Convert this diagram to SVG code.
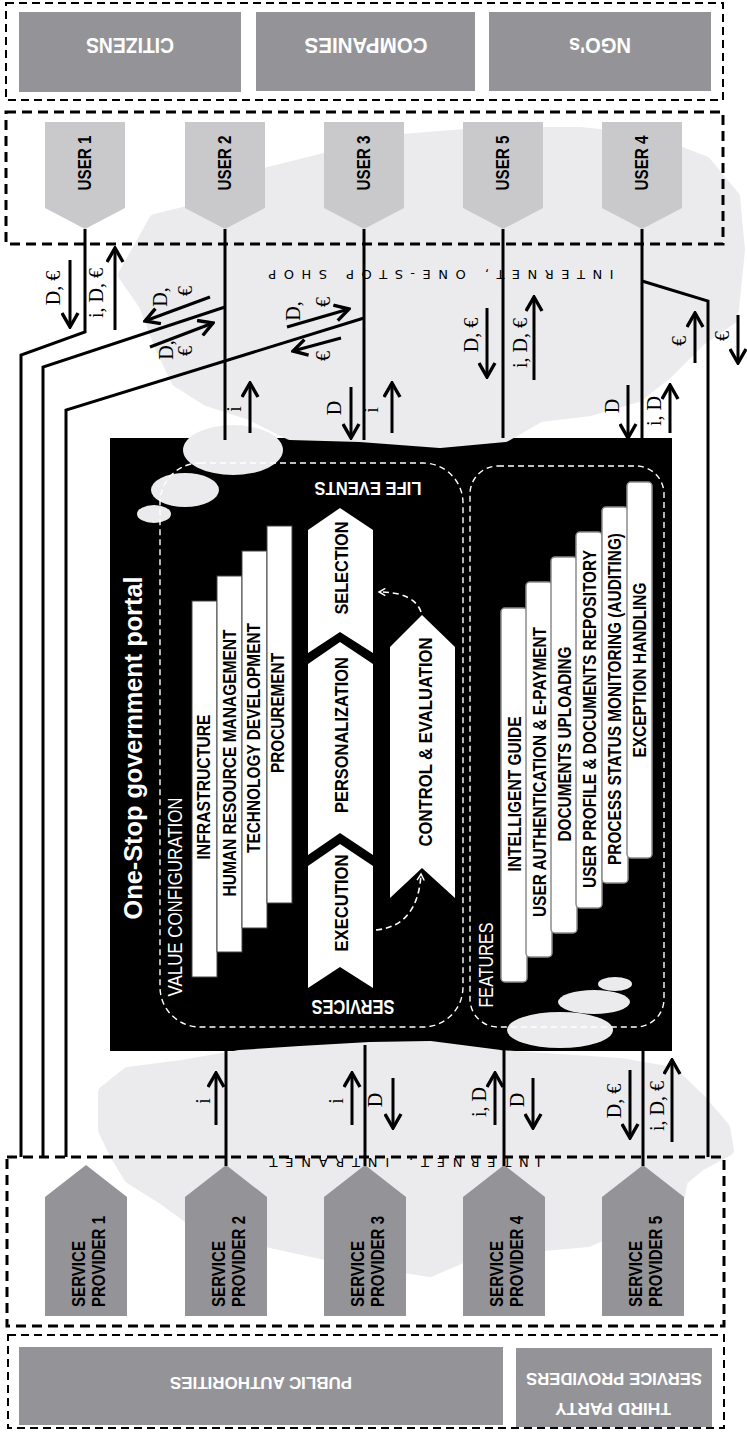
<svg xmlns="http://www.w3.org/2000/svg" width="747" height="1433" viewBox="0 0 747 1433">
<defs>
<style>
.dk{fill:#949498}
.us{fill:#c9c9cc}
.cl{fill:#ebebed;stroke:#ebebed;stroke-width:12;stroke-linejoin:round}
.bub{fill:#ebebed}
.db{fill:none;stroke:#000;stroke-width:3;stroke-dasharray:10 6}
.db2{fill:none;stroke:#000;stroke-width:2;stroke-dasharray:8 5}
.ln{fill:none;stroke:#000;stroke-width:3;stroke-linejoin:miter}
.ar{fill:none;stroke:#000;stroke-width:3;marker-end:url(#ah)}
.lb{font-family:"Liberation Serif","Times New Roman",serif;font-size:20px;fill:#000;text-anchor:middle}
.hw{font-family:"Liberation Sans",Arial,sans-serif;font-weight:bold;fill:#fff;text-anchor:middle}
.hb{font-family:"Liberation Sans",Arial,sans-serif;font-weight:bold;fill:#000;text-anchor:middle}
.hr{font-family:"Liberation Sans",Arial,sans-serif;fill:#fff;text-anchor:middle}
.sp{font-family:"Liberation Sans",Arial,sans-serif;font-weight:bold;fill:#000;font-size:19px}
.net{font-family:"DejaVu Sans","Liberation Sans",sans-serif;font-size:13px;fill:#000;text-anchor:middle}
.bar{fill:#fff;stroke:#444;stroke-width:1}
.fbar{fill:#fff;stroke:#8c8c8c;stroke-width:1.5}
.chev{fill:#fff}
.wd{fill:none;stroke:#fff;stroke-width:1.4;stroke-dasharray:6 4}
.wa{fill:none;stroke:#fff;stroke-width:1.6;stroke-dasharray:6 4;marker-end:url(#ahw)}
</style>
<marker id="ah" viewBox="0 0 17 19" refX="15" refY="9.5" markerWidth="17" markerHeight="19" markerUnits="userSpaceOnUse" orient="auto">
<path d="M1,1.5 L15,9.5 L1,17.5" fill="none" stroke="#000" stroke-width="3.4"/>
</marker>
<marker id="ahw" viewBox="0 0 10 10" refX="8" refY="5" markerWidth="9" markerHeight="9" markerUnits="userSpaceOnUse" orient="auto">
<path d="M1,1 L8,5 L1,9" fill="none" stroke="#fff" stroke-width="1.6"/>
</marker>
</defs>

<rect width="747" height="1433" fill="#fff"/>

<g id="portal-bg">
<rect x="110" y="438" width="562" height="613" fill="#000"/>
</g>

<g id="clouds">
<polygon class="cl" points="124,275 155,220 215,205 268,173 332,157 402,140 490,133 580,133 648,140 705,162 734,197 739,250 732,318 700,340 668,372 638,396 590,410 540,416 505,436 440,442 360,436 290,434 250,414 207,400 177,381 160,345 145,305"/>
<polygon class="cl" points="104,1092 128,1073 182,1066 240,1056 300,1052 370,1048 430,1047 500,1056 620,1064 672,1073 700,1100 724,1128 728,1150 700,1165 682,1180 677,1205 636,1220 588,1241 476,1251 430,1271 325,1254 202,1227 162,1198 130,1178 116,1155 104,1130"/>
<ellipse class="bub" cx="233" cy="450" rx="50" ry="25"/>
<ellipse class="bub" cx="185" cy="490" rx="34" ry="17"/>
<ellipse class="bub" cx="154" cy="514" rx="17" ry="9"/>
<ellipse class="bub" cx="560" cy="1030" rx="53" ry="18"/>
<ellipse class="bub" cx="594" cy="1002" rx="36" ry="12"/>
<ellipse class="bub" cx="615" cy="984" rx="17" ry="7"/>
<text class="net" transform="translate(441,270) rotate(180)" textLength="345" lengthAdjust="spacing">INTERNET, ONE-STOP SHOP</text>
<text class="net" transform="translate(405,1158) rotate(180)" textLength="271" lengthAdjust="spacing">INTERNET, INTRANET</text>
</g>

<g id="stakeholders">
<rect class="db2" x="6" y="3" width="717" height="97"/>
<g id="citizens"><rect class="dk" x="19" y="12" width="222" height="80"/><text class="hw" font-size="22" transform="translate(130,38) rotate(180)" textLength="88" lengthAdjust="spacingAndGlyphs">CITIZENS</text></g>
<g id="companies"><rect class="dk" x="256" y="12" width="219" height="79"/><text class="hw" font-size="22" transform="translate(366,38) rotate(180)" textLength="123" lengthAdjust="spacingAndGlyphs">COMPANIES</text></g>
<g id="ngos"><rect class="dk" x="489" y="12" width="222" height="79"/><text class="hw" font-size="22" transform="translate(600,38) rotate(180)" textLength="62" lengthAdjust="spacingAndGlyphs">NGO's</text></g>
</g>

<g id="users">
<rect class="db" x="6" y="112" width="717" height="132"/>
<g id="user1"><polygon class="us" points="45,122 125,122 125,208 85,229 45,208"/><text class="hb" font-size="19" transform="translate(91,163) rotate(-90)" textLength="55" lengthAdjust="spacingAndGlyphs">USER 1</text></g>
<g id="user2"><polygon class="us" points="185,122 265,122 265,208 225,229 185,208"/><text class="hb" font-size="19" transform="translate(231,163) rotate(-90)" textLength="55" lengthAdjust="spacingAndGlyphs">USER 2</text></g>
<g id="user3"><polygon class="us" points="324,122 404,122 404,208 364,229 324,208"/><text class="hb" font-size="19" transform="translate(370,163) rotate(-90)" textLength="55" lengthAdjust="spacingAndGlyphs">USER 3</text></g>
<g id="user5"><polygon class="us" points="463,122 543,122 543,208 503,229 463,208"/><text class="hb" font-size="19" transform="translate(509,163) rotate(-90)" textLength="55" lengthAdjust="spacingAndGlyphs">USER 5</text></g>
<g id="user4"><polygon class="us" points="602,122 682,122 682,208 642,229 602,208"/><text class="hb" font-size="19" transform="translate(648,163) rotate(-90)" textLength="55" lengthAdjust="spacingAndGlyphs">USER 4</text></g>
</g>

<g id="providers">
<rect class="db" x="7" y="1157" width="717" height="169"/>
<g id="sp1"><polygon class="dk" points="45,1316 45,1197 86,1165 127,1197 127,1316"/><text class="sp" transform="translate(85,1307) rotate(-90)" textLength="66" lengthAdjust="spacingAndGlyphs">SERVICE</text><text class="sp" transform="translate(105,1307) rotate(-90)" textLength="91" lengthAdjust="spacingAndGlyphs">PROVIDER 1</text></g>
<g id="sp2"><polygon class="dk" points="185,1316 185,1197 226,1165 267,1197 267,1316"/><text class="sp" transform="translate(225,1307) rotate(-90)" textLength="66" lengthAdjust="spacingAndGlyphs">SERVICE</text><text class="sp" transform="translate(245,1307) rotate(-90)" textLength="91" lengthAdjust="spacingAndGlyphs">PROVIDER 2</text></g>
<g id="sp3"><polygon class="dk" points="324,1316 324,1197 365,1165 406,1197 406,1316"/><text class="sp" transform="translate(364,1307) rotate(-90)" textLength="66" lengthAdjust="spacingAndGlyphs">SERVICE</text><text class="sp" transform="translate(384,1307) rotate(-90)" textLength="91" lengthAdjust="spacingAndGlyphs">PROVIDER 3</text></g>
<g id="sp4"><polygon class="dk" points="463,1316 463,1197 504,1165 545,1197 545,1316"/><text class="sp" transform="translate(503,1307) rotate(-90)" textLength="66" lengthAdjust="spacingAndGlyphs">SERVICE</text><text class="sp" transform="translate(523,1307) rotate(-90)" textLength="91" lengthAdjust="spacingAndGlyphs">PROVIDER 4</text></g>
<g id="sp5"><polygon class="dk" points="602,1316 602,1197 643,1165 684,1197 684,1316"/><text class="sp" transform="translate(642,1307) rotate(-90)" textLength="66" lengthAdjust="spacingAndGlyphs">SERVICE</text><text class="sp" transform="translate(662,1307) rotate(-90)" textLength="91" lengthAdjust="spacingAndGlyphs">PROVIDER 5</text></g>
</g>

<g id="authorities">
<rect class="db2" x="8" y="1335" width="716" height="93"/>
<g id="public-authorities"><rect class="dk" x="19" y="1347" width="484" height="78"/><text class="hw" font-size="17" transform="translate(261,1377) rotate(180)" textLength="182" lengthAdjust="spacingAndGlyphs">PUBLIC AUTHORITIES</text></g>
<g id="third-party"><rect class="dk" x="516" y="1348" width="196" height="79"/><text class="hw" font-size="17" transform="translate(613,1403) rotate(180)" textLength="116" lengthAdjust="spacingAndGlyphs">THIRD PARTY</text><text class="hw" font-size="17" transform="translate(614,1373) rotate(180)" textLength="176" lengthAdjust="spacingAndGlyphs">SERVICE PROVIDERS</text></g>
</g>

<g id="connectors">
<polyline class="ln" points="85,229 85,332 21,355 21,1157"/>
<polyline class="ln" points="225,229 225,440"/>
<polyline class="ln" points="225,307 43,367 43,1157"/>
<polyline class="ln" points="364,229 364,440"/>
<polyline class="ln" points="364,318 66,410 66,1157"/>
<polyline class="ln" points="503,229 503,438"/>
<polyline class="ln" points="642,229 642,438"/>
<polyline class="ln" points="642,281 708,301 708,1157"/>
<line class="ln" x1="226" y1="1051" x2="226" y2="1166"/>
<line class="ln" x1="365" y1="1045" x2="365" y2="1166"/>
<line class="ln" x1="504" y1="1050" x2="504" y2="1166"/>
<line class="ln" x1="643" y1="1051" x2="643" y2="1166"/>

<path class="ar" d="M70,260 L70,327"/>
<path class="ar" d="M115,330 L115,248"/>
<path class="ar" d="M210,297 L145,321"/>
<path class="ar" d="M150,347 L213,323"/>
<path class="ar" d="M287,327 L349,309"/>
<path class="ar" d="M341,338 L293,351"/>
<path class="ar" d="M250,433 L250,383"/>
<path class="ar" d="M351,387 L351,438"/>
<path class="ar" d="M392,433 L392,383"/>
<path class="ar" d="M487,308 L487,377"/>
<path class="ar" d="M534,380 L534,297"/>
<path class="ar" d="M628,385 L628,438"/>
<path class="ar" d="M670,433 L670,385"/>
<path class="ar" d="M695,363 L695,313"/>
<path class="ar" d="M738,315 L738,363"/>

<path class="ar" d="M216,1125 L216,1073"/>
<path class="ar" d="M352,1125 L352,1073"/>
<path class="ar" d="M393,1078 L393,1128"/>
<path class="ar" d="M495,1125 L495,1073"/>
<path class="ar" d="M533,1078 L533,1128"/>
<path class="ar" d="M630,1070 L630,1138"/>
<path class="ar" d="M672,1142 L672,1060"/>

<text class="lb" transform="translate(60,288) rotate(-90)">D, €</text>
<text class="lb" transform="translate(103,293) rotate(-90)">i, D, €</text>
<text class="lb" transform="translate(167,297) rotate(-90)">D,</text>
<text class="lb" transform="translate(192,291) rotate(-90)">€</text>
<text class="lb" transform="translate(173,350) rotate(-90)">D,</text>
<text class="lb" transform="translate(192,351) rotate(-90)">€</text>
<text class="lb" transform="translate(300,311) rotate(-90)">D,</text>
<text class="lb" transform="translate(330,302) rotate(-90)">€</text>
<text class="lb" transform="translate(330,356) rotate(-90)">€</text>
<text class="lb" transform="translate(241,409) rotate(-90)">i</text>
<text class="lb" transform="translate(341,408) rotate(-90)">D</text>
<text class="lb" transform="translate(378,410) rotate(-90)">i</text>
<text class="lb" transform="translate(478,335) rotate(-90)">D, €</text>
<text class="lb" transform="translate(527,343) rotate(-90)">i, D, €</text>
<text class="lb" transform="translate(619,406) rotate(-90)">D</text>
<text class="lb" transform="translate(661,411) rotate(-90)">i, D</text>
<text class="lb" transform="translate(686,341) rotate(-90)">€</text>
<text class="lb" transform="translate(729,336) rotate(-90)">€</text>

<text class="lb" transform="translate(210,1101) rotate(-90)">i</text>
<text class="lb" transform="translate(343,1101) rotate(-90)">i</text>
<text class="lb" transform="translate(382,1100) rotate(-90)">D</text>
<text class="lb" transform="translate(486,1102) rotate(-90)">i, D</text>
<text class="lb" transform="translate(524,1100) rotate(-90)">D</text>
<text class="lb" transform="translate(621,1101) rotate(-90)">D, €</text>
<text class="lb" transform="translate(664,1106) rotate(-90)">i, D, €</text>
</g>

<g id="portal">
<rect class="wd" x="160" y="463" width="303" height="564" rx="40"/>
<rect class="wd" x="470" y="466" width="194" height="561" rx="28"/>
<text class="hw" font-size="25" transform="translate(142,748) rotate(-90)" textLength="343" lengthAdjust="spacingAndGlyphs">One-Stop government portal</text>

<g id="value-configuration">
<text class="hr" font-size="20" transform="translate(182,897) rotate(-90)" textLength="199" lengthAdjust="spacingAndGlyphs">VALUE CONFIGURATION</text>
<rect class="bar" x="192" y="601" width="25" height="376"/>
<rect class="bar" x="217" y="576" width="25" height="376"/>
<rect class="bar" x="242" y="551" width="25" height="377"/>
<rect class="bar" x="267" y="526" width="25" height="377"/>
<text class="hb" font-size="18" transform="translate(210,787) rotate(-90)" textLength="145" lengthAdjust="spacingAndGlyphs">INFRASTRUCTURE</text>
<text class="hb" font-size="18" transform="translate(236,763) rotate(-90)" textLength="267" lengthAdjust="spacingAndGlyphs">HUMAN RESOURCE MANAGEMENT</text>
<text class="hb" font-size="18" transform="translate(260,738) rotate(-90)" textLength="230" lengthAdjust="spacingAndGlyphs">TECHNOLOGY DEVELOPMENT</text>
<text class="hb" font-size="18" transform="translate(284,713) rotate(-90)" textLength="120" lengthAdjust="spacingAndGlyphs">PROCUREMENT</text>
</g>

<g id="services">
<text class="hw" font-size="19" transform="translate(368,482) rotate(180)" textLength="107" lengthAdjust="spacingAndGlyphs">LIFE EVENTS</text>
<text class="hw" font-size="20" transform="translate(353,1000) rotate(180)" textLength="83" lengthAdjust="spacingAndGlyphs">SERVICES</text>
<g id="selection"><polygon class="chev" points="308,530 340,508 373,530 373,653 340,632 308,653"/><text class="hb" font-size="19" transform="translate(348,568) rotate(-90)" textLength="93" lengthAdjust="spacingAndGlyphs">SELECTION</text></g>
<g id="personalization"><polygon class="chev" points="308,664 340,642 373,664 373,855 340,833 308,855"/><text class="hb" font-size="19" transform="translate(348,735) rotate(-90)" textLength="156" lengthAdjust="spacingAndGlyphs">PERSONALIZATION</text></g>
<g id="execution"><polygon class="chev" points="308,866 340,844 373,866 373,988 340,967 308,988"/><text class="hb" font-size="19" transform="translate(348,903) rotate(-90)" textLength="97" lengthAdjust="spacingAndGlyphs">EXECUTION</text></g>
<g id="control"><polygon class="chev" points="390,647 422,615 455,647 455,898 422,868 390,898"/><text class="hb" font-size="19" transform="translate(432,742) rotate(-90)" textLength="209" lengthAdjust="spacingAndGlyphs">CONTROL &amp; EVALUATION</text></g>
<path class="wa" d="M376,930 Q418,926 421,874"/>
<path class="wa" d="M421,612 Q414,592 379,592"/>
</g>

<g id="features">
<text class="hr" font-size="20" transform="translate(493,965) rotate(-90)" textLength="85" lengthAdjust="spacingAndGlyphs">FEATURES</text>
<rect class="fbar" x="501" y="608" width="26" height="374" rx="4"/>
<rect class="fbar" x="526" y="582" width="26" height="375" rx="4"/>
<rect class="fbar" x="551" y="557" width="26" height="376" rx="4"/>
<rect class="fbar" x="576" y="532" width="26" height="376" rx="4"/>
<rect class="fbar" x="602" y="507" width="26" height="376" rx="4"/>
<rect class="fbar" x="627" y="482" width="25" height="376" rx="4"/>
<text class="hb" font-size="18" transform="translate(521,794) rotate(-90)" textLength="155" lengthAdjust="spacingAndGlyphs">INTELLIGENT GUIDE</text>
<text class="hb" font-size="18" transform="translate(546,772) rotate(-90)" textLength="290" lengthAdjust="spacingAndGlyphs">USER AUTHENTICATION &amp; E-PAYMENT</text>
<text class="hb" font-size="18" transform="translate(571,744) rotate(-90)" textLength="195" lengthAdjust="spacingAndGlyphs">DOCUMENTS UPLOADING</text>
<text class="hb" font-size="18" transform="translate(596,719) rotate(-90)" textLength="338" lengthAdjust="spacingAndGlyphs">USER PROFILE &amp; DOCUMENTS REPOSITORY</text>
<text class="hb" font-size="18" transform="translate(621,699) rotate(-90)" textLength="332" lengthAdjust="spacingAndGlyphs">PROCESS STATUS MONITORING (AUDITING)</text>
<text class="hb" font-size="18" transform="translate(646,670) rotate(-90)" textLength="175" lengthAdjust="spacingAndGlyphs">EXCEPTION HANDLING</text>
</g>
</g>
</svg>
